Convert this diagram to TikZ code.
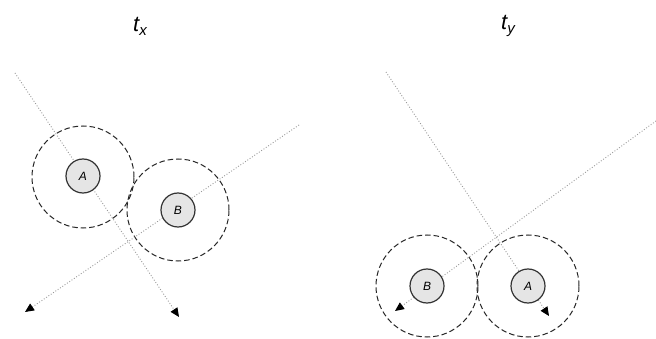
\documentclass[tikz,border=0pt]{standalone}
\usepackage{fontspec}
\setmainfont{Liberation Sans}
\usetikzlibrary{arrows.meta}
\begin{document}
\begin{tikzpicture}[x=1pt,y=-1pt,
  ballnode/.style={circle,draw=black!80,line width=1.2pt,fill=black!10,minimum size=34pt,inner sep=0pt,font=\fontsize{12}{12}\selectfont\itshape},
  reachring/.style={circle,draw=black!85,line width=1pt,dash pattern=on 5.5pt off 3pt,minimum size=102pt,inner sep=0pt},
  trailline/.style={draw=black!40,line width=0.9pt,dash pattern=on 0.9pt off 1.9pt,-{Triangle[length=9pt,width=8pt,color=black]}},
  titlenode/.style={font=\fontsize{22}{22}\selectfont\itshape,inner sep=0pt}]
\fill[white] (0,0) rectangle (656,339);
\useasboundingbox (0,0) rectangle (656,339);
% titles
\node[titlenode] (tx) at (140,26) {t\raisebox{-4pt}{\fontsize{15}{15}\selectfont x}};
\node[titlenode] (ty) at (508,26) {t\raisebox{-4pt}{\fontsize{15}{15}\selectfont y}};
% left panel
\coordinate (ax0) at (15,73);
\coordinate (ax1) at (179,317);
\coordinate (bx0) at (299,125);
\coordinate (bx1) at (25,312);
\node[reachring] (rA) at (83,177) {};
\node[reachring] (rB) at (178,210) {};
\draw[trailline] (ax0) -- (ax1);
\draw[trailline] (bx0) -- (bx1);
\node[ballnode] (A) at (83,176) {A};
\node[ballnode] (B) at (178,210) {B};
% right panel
\coordinate (ay0) at (386,72);
\coordinate (ay1) at (549,316);
\coordinate (by0) at (656,121);
\coordinate (by1) at (395,311);
\node[reachring] (rA2) at (528,286) {};
\node[reachring] (rB2) at (427,286) {};
\draw[trailline] (ay0) -- (ay1);
\draw[trailline] (by0) -- (by1);
\node[ballnode] (A2) at (528,286) {A};
\node[ballnode] (B2) at (427,286) {B};
\end{tikzpicture}
\end{document}
